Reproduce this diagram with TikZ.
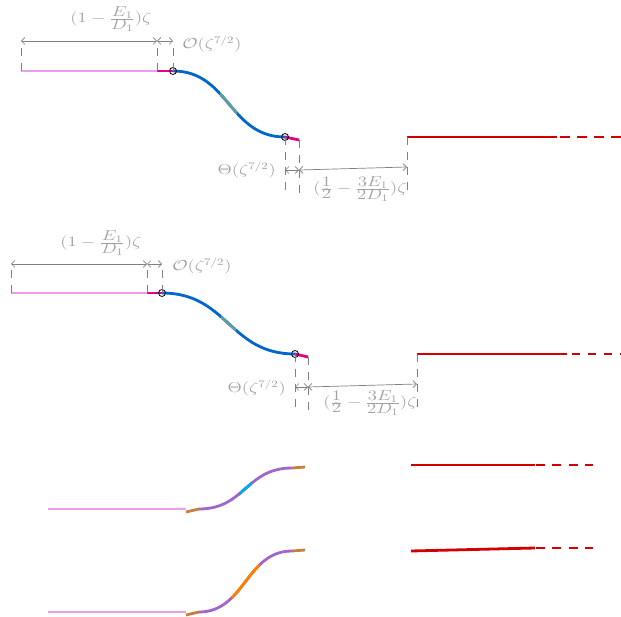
\documentclass[tikz,border=0pt]{standalone}
\usetikzlibrary{arrows.meta}
\definecolor{paleV}{RGB}{232,158,232}
\definecolor{magC}{RGB}{232,0,130}
\definecolor{blueC}{RGB}{0,102,204}
\definecolor{tealC}{RGB}{95,158,160}
\definecolor{redC}{RGB}{210,0,0}
\definecolor{purpC}{RGB}{160,102,204}
\definecolor{brownC}{RGB}{196,128,64}
\definecolor{cyanC}{RGB}{0,170,230}
\definecolor{orangeC}{RGB}{255,128,0}
\definecolor{dimC}{RGB}{128,128,128}
\definecolor{labC}{RGB}{160,160,160}
\newcommand{\tf}[2]{\frac{\textstyle #1}{\textstyle #2}}
\tikzset{
  seg/.style={line width=2.8pt},
  paleline/.style={seg, paleV},
  magline/.style={seg, magC},
  blueline/.style={seg, blueC},
  tealline/.style={seg, tealC},
  redline/.style={seg, redC},
  purpline/.style={seg, purpC},
  brownline/.style={seg, brownC},
  cyanline/.style={seg, cyanC},
  orangeline/.style={seg, orangeC},
  guide/.style={dimC, line width=0.7pt, dash pattern=on 8pt off 7pt},
  dimarrow/.style={dimC, line width=0.7pt, {Straight Barb[length=3.5pt,width=7pt]}-{Straight Barb[length=3.5pt,width=7pt]}},
  lab/.style={text=labC, font=\fontsize{14}{17}\selectfont, inner sep=0pt, xscale=1.3},
  dot/.style={draw=black, line width=0.8pt, circle, minimum size=7pt, inner sep=0pt},
}
\begin{document}
\begin{tikzpicture}[x=1pt,y=-1pt]
\useasboundingbox (0,0) rectangle (621,617);

% ---------------- Panel 1 ----------------
\coordinate (p1a) at (21,71);
\coordinate (p1b) at (157,71);
\coordinate (p1c) at (173,71);
\coordinate (p1d) at (285,137);
\coordinate (p1e) at (299,140);
\coordinate (p1f) at (407,137);
\coordinate (p1g) at (557,137);
\coordinate (p1h) at (621,137);
\draw[paleline] (p1a) -- (p1b);
\draw[magline] (p1b) -- (p1c);
\draw[blueline] (p1c) .. controls +(56,0) and +(-56,0) .. (p1d);
\begin{scope}
  \clip (220,0) rectangle (237,617);
  \draw[tealline] (p1c) .. controls +(56,0) and +(-56,0) .. (p1d);
\end{scope}
\draw[magline] (p1d) -- (p1e);
\draw[redline] (p1f) -- (p1g);
\draw[redline, dash pattern=on 10pt off 7pt, dash phase=14pt] (p1g) -- (p1h);
\node[dot] (c1a) at (p1c) {};
\node[dot] (c1b) at (p1d) {};

% dimensions top
\coordinate (t1a) at (21,41);
\coordinate (t1b) at (157,41);
\coordinate (t1c) at (173,41);
\draw[guide] (p1a) -- (t1a);
\draw[guide] (p1b) -- (t1b);
\draw[guide] (p1c) -- (t1c);
\draw[dimarrow] (t1a) -- (t1b);
\draw[dimarrow] (t1b) -- (t1c);
\node[lab] (l1a) at (111,19) {$(1-\tf{E_1}{D_1})\zeta$};
\node[lab, anchor=west] (l1b) at (182,44) {$\mathcal{O}(\zeta^{7/2})$};

% dimensions bottom
\coordinate (b1a) at (285,192);
\coordinate (b1b) at (299,195);
\coordinate (b1c) at (407,194);
\coordinate (a1a) at (285,170);
\coordinate (a1b) at (299,170);
\coordinate (a1c) at (407,167);
\draw[guide] (p1d) -- (b1a);
\draw[guide] (p1e) -- (b1b);
\draw[guide] (p1f) -- (b1c);
\draw[dimarrow] (a1a) -- (a1b);
\draw[dimarrow] (a1b) -- (a1c);
\node[lab, anchor=east] (l1c) at (276,170) {$\Theta(\zeta^{7/2})$};
\node[lab] (l1d) at (360,189) {$(\tf{1}{2}-\tf{3E_1}{2D_1})\zeta$};

% ---------------- Panel 2 ----------------
\coordinate (p2a) at (11,293);
\coordinate (p2b) at (147,293);
\coordinate (p2c) at (162,293);
\coordinate (p2d) at (295,354);
\coordinate (p2e) at (308,357);
\coordinate (p2f) at (417,354);
\coordinate (p2g) at (567,354);
\coordinate (p2h) at (621,354);
\draw[paleline] (p2a) -- (p2b);
\draw[magline] (p2b) -- (p2c);
\draw[blueline] (p2c) .. controls +(66,0) and +(-66,0) .. (p2d);
\begin{scope}
  \clip (221,0) rectangle (236,617);
  \draw[tealline] (p2c) .. controls +(66,0) and +(-66,0) .. (p2d);
\end{scope}
\draw[magline] (p2d) -- (p2e);
\draw[redline] (p2f) -- (p2g);
\draw[redline, dash pattern=on 8pt off 8pt, dash phase=11pt] (p2g) -- (p2h);
\node[dot] (c2a) at (p2c) {};
\node[dot] (c2b) at (p2d) {};

\coordinate (t2a) at (11,264);
\coordinate (t2b) at (147,264);
\coordinate (t2c) at (162,264);
\draw[guide] (p2a) -- (t2a);
\draw[guide] (p2b) -- (t2b);
\draw[guide] (p2c) -- (t2c);
\draw[dimarrow] (t2a) -- (t2b);
\draw[dimarrow] (t2b) -- (t2c);
\node[lab] (l2a) at (101,243) {$(1-\tf{E_1}{D_1})\zeta$};
\node[lab, anchor=west] (l2b) at (172,266) {$\mathcal{O}(\zeta^{7/2})$};

\coordinate (b2a) at (295,408);
\coordinate (b2b) at (308,412);
\coordinate (b2c) at (417,410);
\coordinate (a2a) at (295,387);
\coordinate (a2b) at (308,387);
\coordinate (a2c) at (417,384);
\draw[guide] (p2d) -- (b2a);
\draw[guide] (p2e) -- (b2b);
\draw[guide] (p2f) -- (b2c);
\draw[dimarrow] (a2a) -- (a2b);
\draw[dimarrow] (a2b) -- (a2c);
\node[lab, anchor=east] (l2c) at (286,388) {$\Theta(\zeta^{7/2})$};
\node[lab] (l2d) at (370,403) {$(\tf{1}{2}-\tf{3E_1}{2D_1})\zeta$};

% ---------------- Panel 3 ----------------
\coordinate (p3a) at (48,509);
\coordinate (p3b) at (186,509);
\coordinate (p3k) at (186,512);
\coordinate (p3c) at (199,509);
\coordinate (p3d) at (292,468);
\coordinate (p3e) at (305,467);
\coordinate (p3f) at (411,465);
\coordinate (p3g) at (535,465);
\coordinate (p3h) at (593,465);
\draw[paleline] (p3a) -- (p3b);
\draw[brownline] (p3k) -- (p3c);
\draw[purpline] (p3c) .. controls +(46,0) and +(-46,0) .. (p3d);
\begin{scope}
  \clip (239,0) rectangle (252,617);
  \draw[cyanline] (p3c) .. controls +(46,0) and +(-46,0) .. (p3d);
\end{scope}
\draw[brownline] (p3d) -- (p3e);
\draw[redline] (p3f) -- (p3g);
\draw[redline, dash pattern=on 9pt off 7.5pt, dash phase=16pt] (p3g) -- (p3h);

% ---------------- Panel 4 ----------------
\coordinate (p4a) at (48,612);
\coordinate (p4b) at (186,612);
\coordinate (p4k) at (186,615);
\coordinate (p4c) at (199,612);
\coordinate (p4d) at (292,551);
\coordinate (p4e) at (305,550);
\coordinate (p4f) at (411,551);
\coordinate (p4g) at (535,548);
\coordinate (p4h) at (593,548);
\draw[paleline] (p4a) -- (p4b);
\draw[brownline] (p4k) -- (p4c);
\draw[purpline] (p4c) .. controls +(46,0) and +(-46,0) .. (p4d);
\begin{scope}
  \clip (232,0) rectangle (259,617);
  \draw[orangeline] (p4c) .. controls +(46,0) and +(-46,0) .. (p4d);
\end{scope}
\draw[brownline] (p4d) -- (p4e);
\draw[redline] (p4f) -- (p4g);
\draw[redline, dash pattern=on 9pt off 7.5pt, dash phase=16pt] (p4g) -- (p4h);
\end{tikzpicture}
\end{document}
